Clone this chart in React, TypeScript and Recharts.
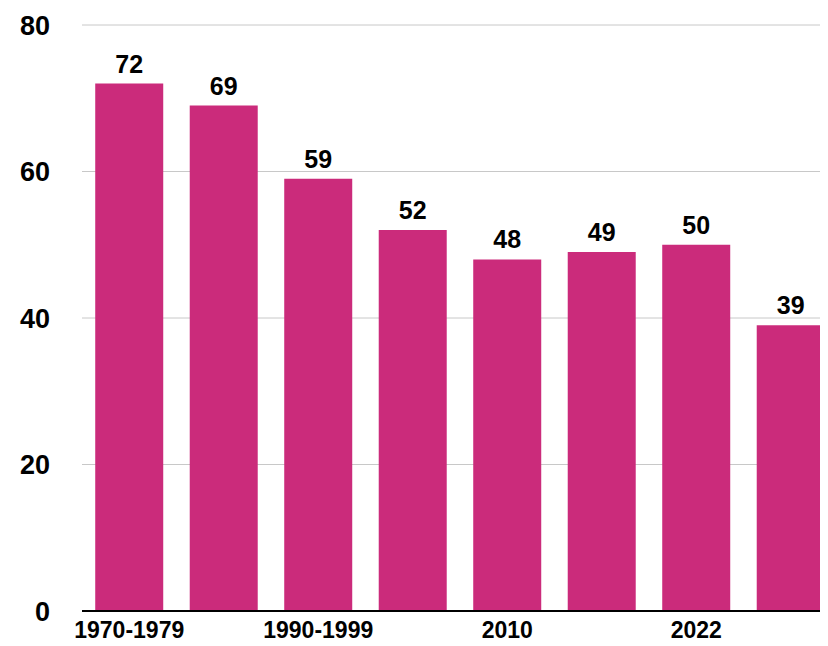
import { Bar, BarChart, CartesianGrid, LabelList, XAxis, YAxis } from "recharts"

const periods = [
  "1970-1979",
  "1980-1989",
  "1990-1999",
  "2000-2009",
  "2010",
  "2020",
  "2022",
  "2024",
]
const values = [72, 69, 59, 52, 48, 49, 50, 39]
const yTicks = [0, 20, 40, 60, 80]

const data = periods.map((period, i) => ({ period, value: values[i] }))

const font = '"Liberation Sans", Arial, Helvetica, sans-serif'

export default function App() {
  return (
    <div style={{ fontFamily: font, width: 820, height: 638, overflow: "hidden" }}>
      <BarChart
        width={830}
        height={638}
        data={data}
        margin={{ top: 17, right: 0, bottom: 0, left: 0 }}
        barCategoryGap="14%"
      >
        <CartesianGrid vertical={false} stroke="#c8c8c8" strokeWidth={1} />
        <XAxis
          dataKey="period"
          interval={1}
          height={35}
          tickLine={false}
          tickSize={0}
          tickMargin={11}
          axisLine={{ stroke: "#000", strokeWidth: 2 }}
          tick={{ fill: "#000", fontSize: 23, fontWeight: 700, fontFamily: font }}
        />
        <YAxis
          domain={[0, 80]}
          ticks={yTicks}
          width={74}
          axisLine={false}
          tickLine={false}
          tickSize={0}
          tickMargin={32}
          tick={{ fill: "#000", fontSize: 27, fontWeight: 700, fontFamily: font }}
        />
        <Bar dataKey="value" fill="#cb2b7b" isAnimationActive={false}>
          <LabelList
            dataKey="value"
            position="top"
            offset={11}
            fill="#000"
            fontSize={25}
            fontWeight={700}
            fontFamily={font}
          />
        </Bar>
      </BarChart>
    </div>
  )
}
